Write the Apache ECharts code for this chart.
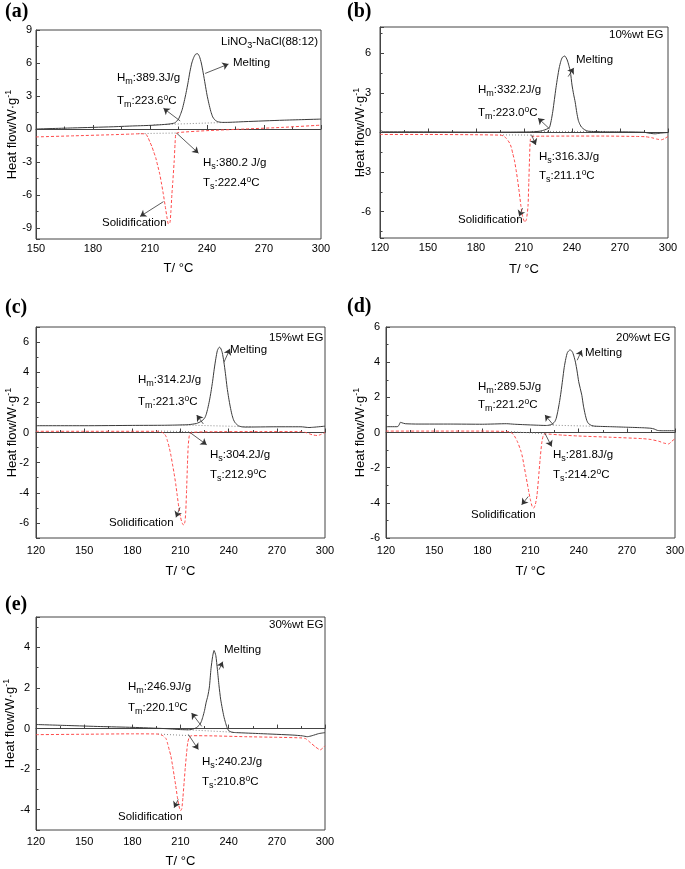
<!DOCTYPE html>
<html><head><meta charset="utf-8">
<script src="https://cdn.jsdelivr.net/npm/echarts@6/dist/echarts.min.js"></script>
<style>html,body{margin:0;padding:0;background:#fff}#c{width:685px;height:869px}</style>
</head><body><div id="c"></div>
<script>
// ---------- DATA ----------
// (a) LiNO3-NaCl(88:12)
const aHeatT = [150,170,190,200,210,215,220,223,224,225,226,227,228,229,230,231,232,233,234,235,236,237,238,239,240,241,242,243,244,245,246,248,250,260,280,300];
const aHeatV = [0.00,0.10,0.20,0.27,0.33,0.38,0.45,0.55,0.70,0.90,1.30,1.80,2.50,3.30,4.20,5.20,6.00,6.50,6.80,6.85,6.60,6.00,5.10,4.10,3.10,2.30,1.60,1.10,0.85,0.72,0.65,0.60,0.60,0.67,0.80,0.90];
const aCoolT = [150,170,190,200,205,207,208,209,210,211,212,213,214,215,216,217,218,219,219.7,220.5,221,221.5,222,222.7,223.2,223.6,225,240,260,280,300];
const aCoolV = [-0.72,-0.62,-0.52,-0.46,-0.43,-0.44,-0.50,-0.80,-1.20,-1.60,-2.10,-2.60,-3.30,-4.00,-4.90,-5.90,-7.00,-8.10,-8.65,-8.50,-7.50,-6.00,-4.80,-3.00,-1.30,-0.45,-0.32,-0.15,0.00,0.15,0.35];
const aMeltBaseT = [212,250], aMeltBaseV = [0.38,0.60];
const aSolBaseT = [204,226], aSolBaseV = [-0.42,-0.36];
const aArrows = [[239.0,5.05,251.3,5.9],[225.9,0.73,217.1,1.88],[224.1,-0.39,235.5,-2.2],[217.1,-6.6,204.8,-7.95]];

// (b) 10%wt EG
const bHeatT = [120,121,122,140,160,180,200,215,220,223,225,226,227,228,229,230,231,232,233,234,235.5,237,238,239,240,241,242,243,244,245,246,248,250,260,270,285,288,292,295,300];
const bHeatV = [0.10,0.12,0.05,0.05,0.04,0.03,0.03,0.05,0.10,0.20,0.30,0.40,0.90,1.60,2.50,3.40,4.20,4.90,5.40,5.70,5.80,5.50,5.10,4.60,3.60,2.90,2.30,1.50,0.90,0.60,0.40,0.20,0.10,0.05,0.05,0.02,-0.05,-0.10,-0.05,0.00];
const bCoolT = [120,150,180,195,197,199,201,202,203,204,205,206,207,208,209,210.5,211.5,212.5,213,213.5,214,215,220,240,260,280,286,290,293,296,298,300];
const bCoolV = [-0.15,-0.15,-0.17,-0.20,-0.25,-0.45,-0.80,-1.10,-1.60,-2.10,-2.80,-3.60,-4.50,-5.50,-6.30,-6.80,-6.60,-5.60,-3.80,-1.80,-0.50,-0.30,-0.28,-0.27,-0.27,-0.30,-0.32,-0.40,-0.50,-0.55,-0.45,-0.30];
const bMeltBaseT = [215,262], bMeltBaseV = [0.08,0.08];
const bSolBaseT = [195,216], bSolBaseV = [-0.18,-0.20];
const bArrows = [[237.6,4.24,241.1,4.9],[226.1,0.26,218.8,1.09],[214.7,-0.17,217.4,-0.94],[209.1,-5.73,207,-6.36]];

// (c) 15%wt EG
const cHeatT = [120,150,180,200,210,215,220,223,225,226,227,228,229,230,231,232,233,234.2,235,236,237,238,239,240,241,242,243,244,246,248,250,270,285,290,293,300];
const cHeatV = [0.45,0.45,0.47,0.48,0.50,0.52,0.60,0.75,0.95,1.20,1.60,2.10,2.70,3.40,4.20,4.90,5.45,5.66,5.60,5.30,4.70,3.90,3.00,2.30,1.70,1.20,0.85,0.65,0.45,0.38,0.36,0.38,0.38,0.33,0.35,0.42];
const cCoolT = [120,150,180,195,198,200,201,202,203,204,205,206,207,208,209,210,211,212,212.8,213.3,213.8,214.3,214.8,215.5,216.5,230,260,285,288,292,295,297,300];
const cCoolV = [0.08,0.08,0.08,0.08,0.05,-0.10,-0.26,-0.60,-1.00,-1.50,-2.10,-2.70,-3.40,-4.20,-5.00,-5.60,-6.00,-6.15,-5.90,-5.20,-3.80,-2.20,-0.90,-0.20,0.00,0.05,0.06,0.06,0.00,-0.15,-0.20,-0.15,0.00];
const cMeltBaseT = [210,255], cMeltBaseV = [0.50,0.38];
const cSolBaseT = [196,217], cSolBaseV = [0.10,0.05];
const cArrows = [[237.1,4.67,240.8,5.55],[224.2,0.57,220.1,1.16],[215.9,0.0,226.3,-0.81],[209.7,-4.97,207.2,-5.63]];

// (d) 20%wt EG
const dHeatT = [120,127,128,129,130,132,140,160,180,195,200,210,220,223,225,226,227,228,229,230,231,232,233,234.6,236,237,238,239,240,241,242,243,244,245,246,248,250,260,270,280,285,287,289,292,300];
const dHeatV = [0.33,0.33,0.40,0.58,0.55,0.50,0.48,0.48,0.47,0.50,0.47,0.43,0.40,0.45,0.60,0.80,1.20,1.70,2.30,3.00,3.70,4.20,4.55,4.70,4.60,4.35,4.00,3.50,2.90,2.50,2.10,1.50,1.05,0.70,0.52,0.40,0.36,0.33,0.30,0.27,0.24,0.20,0.12,0.10,0.10];
const dCoolT = [120,150,180,195,198,200,202,204,205,206,207,208,209,210,211,212,213,214,215,216,217,218,219,230,240,260,280,285,290,293,296,298,300];
const dCoolV = [0.08,0.08,0.08,0.06,0.00,-0.20,-0.55,-1.05,-1.40,-1.90,-2.40,-2.90,-3.40,-3.85,-4.20,-4.30,-4.10,-3.60,-2.60,-1.50,-0.60,-0.15,-0.08,-0.15,-0.20,-0.27,-0.35,-0.40,-0.50,-0.60,-0.65,-0.50,-0.35];
const dMeltBaseT = [222,252], dMeltBaseV = [0.42,0.35];
const dSolBaseT = [196,220], dSolBaseV = [0.06,-0.08];
const dArrows = [[239.1,4.11,241.9,4.68],[224.2,0.43,219,1.0],[219,-0.05,223.2,-0.8],[208.6,-3.64,204.5,-4.11]];

// (e) 30%wt EG
const eHeatT = [120,140,160,180,200,210,215,218,220,222,223,224,225,226,227,228,229,230,230.9,232,233,234,235,236,237,238,239,240,242,245,260,280,286,289,292,296,300];
const eHeatV = [0.20,0.15,0.10,0.06,0.00,-0.05,-0.06,-0.02,0.05,0.20,0.35,0.60,0.90,1.30,1.60,2.05,2.95,3.55,3.85,3.60,2.90,2.10,1.45,1.00,0.60,0.30,0.05,-0.10,-0.18,-0.20,-0.25,-0.32,-0.36,-0.40,-0.35,-0.25,-0.20];
const eCoolT = [120,150,180,196,199,201,202,203,204,205,206,207,208,209,210,210.8,211.5,212.3,213,213.8,214.5,215.5,217,230,250,270,285,288,291,294,297,300];
const eCoolV = [-0.30,-0.28,-0.26,-0.27,-0.35,-0.50,-0.75,-1.05,-1.35,-1.80,-2.30,-2.80,-3.35,-3.80,-4.05,-3.95,-3.40,-2.60,-1.90,-1.20,-0.70,-0.42,-0.35,-0.36,-0.40,-0.43,-0.46,-0.50,-0.70,-0.90,-1.05,-0.85];
const eMeltBaseT = [212,243], eMeltBaseV = [-0.05,-0.18];
const eSolBaseT = [196,216], eSolBaseV = [-0.27,-0.35];
const eArrows = [[234,2.9,236.3,3.3],[223.2,0.11,216.9,0.77],[214.9,-0.29,221.1,-1.03],[208.6,-3.49,206,-3.9]];

// ---------- LAYOUT ----------
const FONT = '"Liberation Sans", Arial, Helvetica, sans-serif';
const zip = (t, v) => t.map((x, i) => [x, v[i]]);
const panels = [
  {tag:'(a)', tagXY:[5,12], box:[36,30,285,209], xMin:150, yMin:-10, yMax:9, yStep:3, split:6,
   xNameGap:23, xLabMargin:4, yNameGap:16, yLabMargin:4,
   heat:zip(aHeatT,aHeatV), cool:zip(aCoolT,aCoolV), mb:zip(aMeltBaseT,aMeltBaseV), sb:zip(aSolBaseT,aSolBaseV), arrows:aArrows,
   texts:[['{n|LiNO}{sub|3}{n|-NaCl(88:12)}',221,42],['{n|Melting}',233,63],['{n|H}{sub|m}{n|:389.3J/g}',117,78],['{n|T}{sub|m}{n|:223.6}{sup|o}{n|C}',117,101],['{n|H}{sub|s}{n|:380.2 J/g}',203,163],['{n|T}{sub|s}{n|:222.4}{sup|o}{n|C}',203,183],['{n|Solidification}',102,223]]},
  {tag:'(b)', tagXY:[347,12], box:[380,27,288,211], xMin:120, yMin:-8, yMax:8, yStep:3, split:5,
   xNameGap:25, xLabMargin:4, yNameGap:12, yLabMargin:9,
   heat:zip(bHeatT,bHeatV), cool:zip(bCoolT,bCoolV), mb:zip(bMeltBaseT,bMeltBaseV), sb:zip(bSolBaseT,bSolBaseV), arrows:bArrows,
   texts:[['{n|10%wt EG}',609,35],['{n|Melting}',576,60],['{n|H}{sub|m}{n|:332.2J/g}',478,90],['{n|T}{sub|m}{n|:223.0}{sup|o}{n|C}',478,113],['{n|H}{sub|s}{n|:316.3J/g}',539,157],['{n|T}{sub|s}{n|:211.1}{sup|o}{n|C}',539,176],['{n|Solidification}',458,220]]},
  {tag:'(c)', tagXY:[5,308], box:[36,327,289,211], xMin:120, yMin:-7, yMax:7, yStep:2, split:7,
   xNameGap:27, xLabMargin:7, yNameGap:16, yLabMargin:7,
   heat:zip(cHeatT,cHeatV), cool:zip(cCoolT,cCoolV), mb:zip(cMeltBaseT,cMeltBaseV), sb:zip(cSolBaseT,cSolBaseV), arrows:cArrows,
   texts:[['{n|15%wt EG}',269,338],['{n|Melting}',230,350],['{n|H}{sub|m}{n|:314.2J/g}',138,380],['{n|T}{sub|m}{n|:221.3}{sup|o}{n|C}',138,402],['{n|H}{sub|s}{n|:304.2J/g}',210,455],['{n|T}{sub|s}{n|:212.9}{sup|o}{n|C}',210,475],['{n|Solidification}',109,523]]},
  {tag:'(d)', tagXY:[347,307], box:[386,327,289,211], xMin:120, yMin:-6, yMax:6, yStep:2, split:6,
   xNameGap:27, xLabMargin:7, yNameGap:18, yLabMargin:6,
   heat:zip(dHeatT,dHeatV), cool:zip(dCoolT,dCoolV), mb:zip(dMeltBaseT,dMeltBaseV), sb:zip(dSolBaseT,dSolBaseV), arrows:dArrows,
   texts:[['{n|20%wt EG}',616,338],['{n|Melting}',585,353],['{n|H}{sub|m}{n|:289.5J/g}',478,387],['{n|T}{sub|m}{n|:221.2}{sup|o}{n|C}',478,405],['{n|H}{sub|s}{n|:281.8J/g}',553,455],['{n|T}{sub|s}{n|:214.2}{sup|o}{n|C}',553,475],['{n|Solidification}',471,515]]},
  {tag:'(e)', tagXY:[5,605], box:[36,617,289,213], xMin:120, yMin:-5, yMax:5.5, yStep:2, split:5,
   xNameGap:25, xLabMargin:6, yNameGap:18, yLabMargin:6,
   heat:zip(eHeatT,eHeatV), cool:zip(eCoolT,eCoolV), mb:zip(eMeltBaseT,eMeltBaseV), sb:zip(eSolBaseT,eSolBaseV), arrows:eArrows,
   texts:[['{n|30%wt EG}',269,625],['{n|Melting}',224,650],['{n|H}{sub|m}{n|:246.9J/g}',128,687],['{n|T}{sub|m}{n|:220.1}{sup|o}{n|C}',128,708],['{n|H}{sub|s}{n|:240.2J/g}',202,762],['{n|T}{sub|s}{n|:210.8}{sup|o}{n|C}',202,782],['{n|Solidification}',118,817]]}
];

const rich = {
  n:   {fontSize:11.5, fontFamily:FONT, fill:'#000', color:'#000'},
  sub: {fontSize:9, fontFamily:FONT, fill:'#000', color:'#000', padding:[7,0,0,0]},
  sup: {fontSize:8.5, fontFamily:FONT, fill:'#000', color:'#000', padding:[0,0,7,0]}
};
const axisColor = '#444';

const option = {animation:false, backgroundColor:'#fff', grid:[], xAxis:[], yAxis:[], series:[], graphic:[]};
panels.forEach((p, i) => {
  option.grid.push({left:p.box[0], top:p.box[1], width:p.box[2], height:p.box[3], containLabel:false, outerBoundsMode:'none',
    show:true, borderColor:axisColor, borderWidth:1, backgroundColor:'rgba(0,0,0,0)'});
  option.xAxis.push({type:'value', gridIndex:i, min:p.xMin, max:300, interval:30,
    name:'T/ °C', nameLocation:'middle', nameGap:p.xNameGap, nameMoveOverlap:false,
    nameTextStyle:{fontSize:13, fontFamily:FONT, color:'#000'},
    axisLine:{lineStyle:{color:axisColor, width:1}},
    axisTick:{inside:true, length:4, lineStyle:{color:axisColor}},
    minorTick:{show:true, splitNumber:2, length:2.5, lineStyle:{color:axisColor}},
    splitLine:{show:false},
    axisLabel:{margin:p.xLabMargin, fontSize:11, fontFamily:FONT, color:'#000'}});
  const st = p.yStep;
  option.yAxis.push({type:'value', gridIndex:i, min:p.yMin, max:p.yMax, splitNumber:p.split,
    name:'{n|Heat flow/W·g}{sup|-1}', nameLocation:'middle', nameGap:p.yNameGap, nameMoveOverlap:false,
    nameTextStyle:{fontSize:13, fontFamily:FONT, color:'#000',
      rich:{n:{fontSize:13, fontFamily:FONT, color:'#000'}, sup:{fontSize:9, fontFamily:FONT, color:'#000', padding:[0,0,7,0]}}},
    axisLine:{lineStyle:{color:axisColor, width:1}},
    axisTick:{inside:true, length:4, lineStyle:{color:axisColor}},
    minorTick:{show:true, splitNumber:2, length:2.5, lineStyle:{color:axisColor}},
    splitLine:{show:false},
    axisLabel:{margin:p.yLabMargin, fontSize:11, fontFamily:FONT, color:'#000',
      formatter:v => (Math.abs(v/st - Math.round(v/st)) < 1e-6 ? String(Math.round(v)) : '')}});
  option.series.push({type:'line', xAxisIndex:i, yAxisIndex:i, data:p.mb, showSymbol:false, silent:true,
    lineStyle:{color:'#8a8a8a', width:1, type:[1,2]}, z:2});
  option.series.push({type:'line', xAxisIndex:i, yAxisIndex:i, data:p.sb, showSymbol:false, silent:true,
    lineStyle:{color:'#8a8a8a', width:1, type:[1,2]}, z:2});
  option.series.push({type:'line', xAxisIndex:i, yAxisIndex:i, data:p.cool, showSymbol:false, silent:true, smooth:0.2,
    lineStyle:{color:'#ff4a4a', width:1, type:[3,2]}, z:3});
  option.series.push({type:'line', xAxisIndex:i, yAxisIndex:i, data:p.heat, showSymbol:false, silent:true, smooth:0.2,
    lineStyle:{color:'#3a3a3a', width:1}, z:4,
    markLine:{silent:true, symbol:['none','arrow'], symbolSize:6, animation:false,
      label:{show:false}, emphasis:{disabled:true},
      lineStyle:{color:'#333', width:0.8, type:'solid'},
      data:p.arrows.map(a => [{coord:[a[0],a[1]]},{coord:[a[2],a[3]]}])}});
  option.graphic.push({type:'text', x:p.tagXY[0], y:p.tagXY[1], silent:true,
    style:{text:p.tag, font:'bold 20px "Liberation Serif", "Times New Roman", serif', fill:'#000', align:'left', verticalAlign:'middle'}});
  p.texts.forEach(t => option.graphic.push({type:'text', x:t[1], y:t[2], silent:true,
    style:{text:t[0], rich:rich, fontSize:11.5, fontFamily:FONT, fill:'#000', align:'left', verticalAlign:'middle'}}));
});

const chart = echarts.init(document.getElementById('c'), null, {renderer:'canvas', width:685, height:869});
chart.setOption(option);
</script>
</body></html>
